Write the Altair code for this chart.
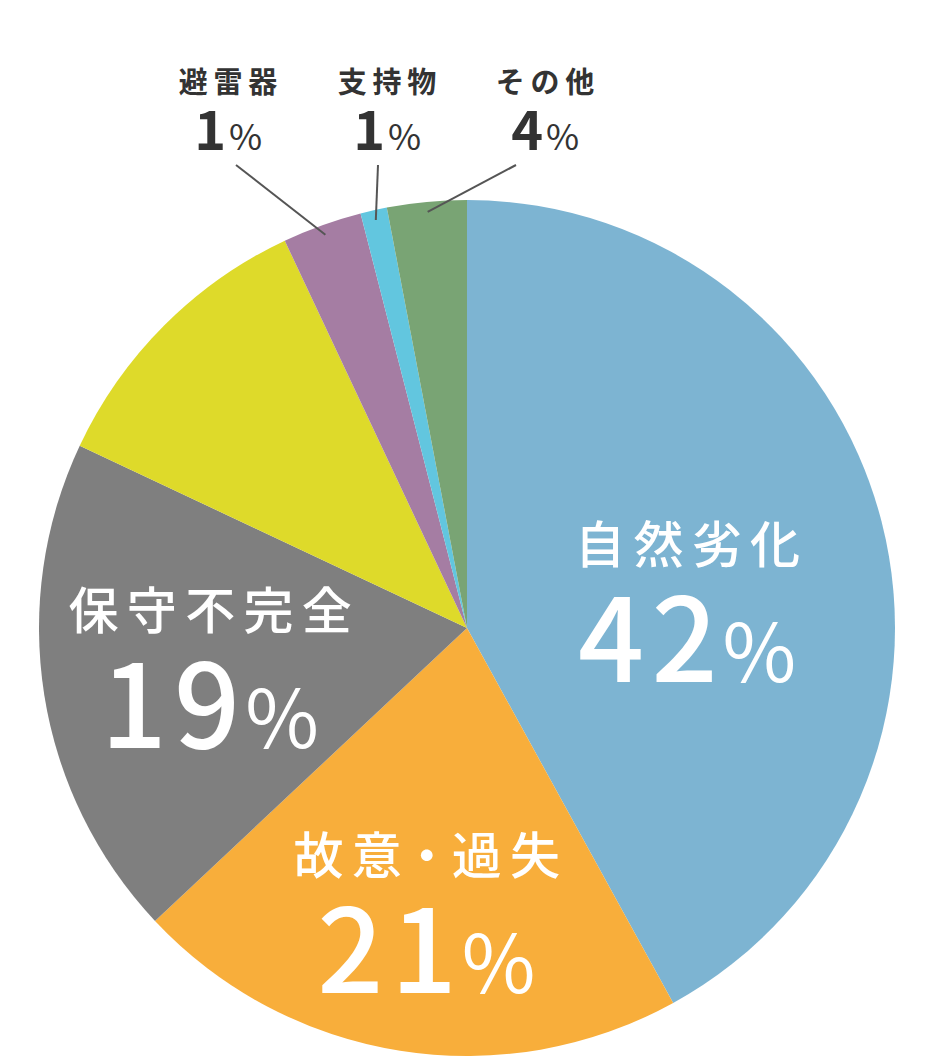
import altair as alt
import pandas as pd

# ---- data ----
categories = ["自然劣化", "故意・過失", "保守不完全", "（表示なし）", "避雷器", "支持物", "その他"]
values = [42, 21, 19, 11, 3, 1, 3]
pct_labels = ["42", "21", "19", "", "1", "1", "4"]
label_kind = ["in", "in", "in", "none", "out", "out", "out"]
colors = ["#7DB4D2", "#F8AE3B", "#7F7F7F", "#DEDA2A", "#A57DA3", "#62C6DF", "#79A474"]

# ---- layout (not data) ----
CX, CY, R = 467, 628, 428
label_radius = [222, 289, 260, 0, 0, 0, 0]
label_nudge_deg = [8, -1, 0, 0, 0, 0, 0]
outer_label_x = [0, 0, 0, 0, 228, 387, 545]
leader_top_x = [0, 0, 0, 0, 236, 378, 516]

IN_SP = "\u2006"     # letter spacing for inside names
OUT_SP = "\u2009"    # letter spacing for outside names
NUM_SP = "\u200a"    # spacing between big digits


def spaced(s, kind):
    sp = IN_SP if kind == "in" else OUT_SP
    out = ""
    for i, ch in enumerate(s):
        if i > 0 and ch != "・" and s[i - 1] != "・":
            out += sp
        out += ch
    return out


df = pd.DataFrame({
    "idx": list(range(len(categories))),
    "cat": categories,
    "value": values,
    "pct": pct_labels,
    "pct_sp": [NUM_SP.join(list(p)) for p in pct_labels],
    "kind": label_kind,
    "name": [spaced(c, k) for c, k in zip(categories, label_kind)],
    "lr": label_radius,
    "nudge": label_nudge_deg,
    "ox": outer_label_x,
    "ltx": leader_top_x,
})

FONT = "Noto Sans CJK JP"

base = alt.Chart(df).transform_joinaggregate(
    total="sum(value)"
).transform_window(
    cum="sum(value)", sort=[alt.SortField("idx")]
).transform_calculate(
    mid="(datum.cum - datum.value/2) / datum.total * 2 * PI"
)

pie = alt.Chart(df).mark_arc(radius=R, stroke=None).encode(
    theta=alt.Theta("value:Q", stack=True),
    order=alt.Order("idx:Q"),
    color=alt.Color("cat:N", scale=alt.Scale(domain=categories, range=colors), legend=None),
    x=alt.value(CX),
    y=alt.value(CY),
)

inner = base.transform_filter("datum.kind == 'in'").transform_calculate(
    a="datum.mid + datum.nudge * PI / 180"
).transform_calculate(
    bx=f"{CX} + datum.lr * sin(datum.a)",
    by=f"{CY} - datum.lr * cos(datum.a)",
).transform_calculate(
    ny="datum.by - 55",
    dy_="datum.by + 79",
    sx="datum.bx + 30",
    px="datum.bx + 35",
)

in_name = inner.mark_text(font=FONT, fontSize=50, fontWeight=500, color="white",
                          align="center", baseline="middle").encode(
    x=alt.X("bx:Q", scale=None), y=alt.Y("ny:Q", scale=None), text="name:N")
in_num = inner.mark_text(font=FONT, fontSize=116, fontWeight=500, color="white",
                         align="right", baseline="alphabetic").encode(
    x=alt.X("sx:Q", scale=None), y=alt.Y("dy_:Q", scale=None), text="pct_sp:N")
in_pct = inner.mark_text(font=FONT, fontSize=80, fontWeight=400, color="white",
                         align="left", baseline="alphabetic", text="%").encode(
    x=alt.X("px:Q", scale=None), y=alt.Y("dy_:Q", scale=None))

outer = base.transform_filter("datum.kind == 'out'").transform_calculate(
    lx=f"{CX} + 418 * sin(datum.mid)",
    ly=f"{CY} - 418 * cos(datum.mid)",
    ny="84",
    dy_="150",
    sx="datum.ox - 2",
    px="datum.ox + 1",
    lty="165",
)

leaders = outer.mark_rule(color="#555555", strokeWidth=2).encode(
    x=alt.X("ltx:Q", scale=None), y=alt.Y("lty:Q", scale=None),
    x2="lx:Q", y2="ly:Q")

out_name = outer.mark_text(font=FONT, fontSize=29, fontWeight=600, color="#333333",
                           align="center", baseline="middle").encode(
    x=alt.X("ox:Q", scale=None), y=alt.Y("ny:Q", scale=None), text="name:N")
out_num = outer.mark_text(font=FONT, fontSize=54, fontWeight=700, color="#333333",
                          align="right", baseline="alphabetic").encode(
    x=alt.X("sx:Q", scale=None), y=alt.Y("dy_:Q", scale=None), text="pct:N")
out_pct = outer.mark_text(font=FONT, fontSize=36, fontWeight=400, color="#333333",
                          align="left", baseline="alphabetic", text="%").encode(
    x=alt.X("px:Q", scale=None), y=alt.Y("dy_:Q", scale=None))

chart = alt.layer(pie, leaders, in_name, in_num, in_pct, out_name, out_num, out_pct).properties(
    width=929, height=1058,
    autosize=alt.AutoSizeParams(type="none"),
    padding=0,
    background="white",
).configure_view(stroke=None)

chart.save("out.html", embed_options={"renderer": "svg", "actions": False})
